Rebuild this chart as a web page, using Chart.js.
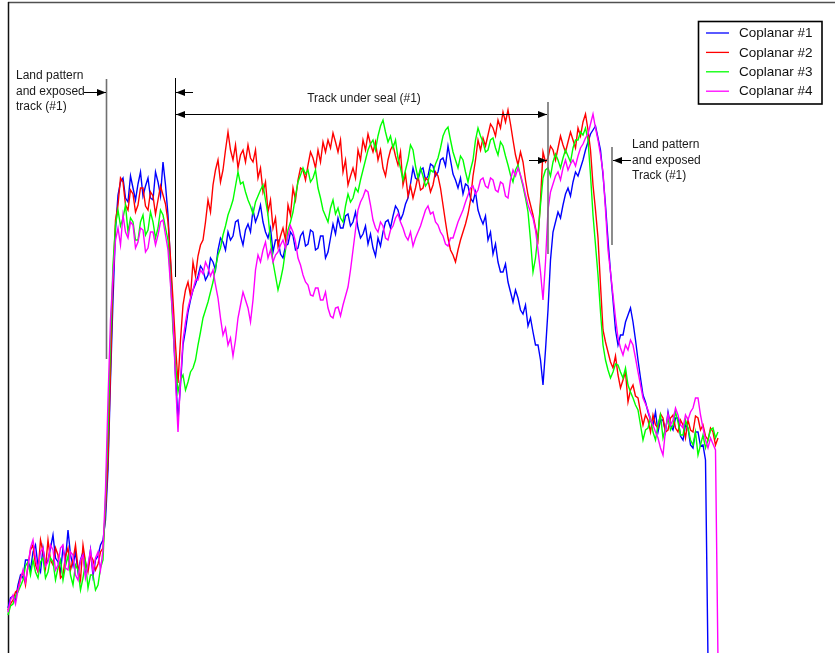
<!DOCTYPE html>
<html>
<head>
<meta charset="utf-8">
<title>Coplanar track profiles</title>
<script src="https://cdn.jsdelivr.net/npm/chart.js@4.4.1/dist/chart.umd.min.js"></script>
<style>
  html, body { margin: 0; padding: 0; background: #ffffff; }
  #wrap { width: 835px; height: 653px; position: relative; }
</style>
</head>
<body>
<div id="wrap"><canvas id="c" width="835" height="653"></canvas></div>
<script>
// Scan samples: position along the track (start + step * index); values are depth below the top edge.
const sampleStart = 8;
const sampleStep = 2.5;

const seriesLabels = ['Coplanar #1', 'Coplanar #2', 'Coplanar #3', 'Coplanar #4'];
const seriesColors = ['#0000ff', '#ff0000', '#00ff00', '#ff00ff'];

const coplanar1 = [
  608, 598, 596, 600, 585, 575, 578, 560, 560, 570, 552, 545, 566, 572, 548, 565, 560, 548, 535, 558,
  562, 572, 548, 560, 530, 555, 566, 552, 572, 560, 552, 575, 568, 550, 576, 560, 556, 545, 540, 520,
  470, 380, 300, 230, 195, 182, 178, 198, 202, 176, 188, 200, 184, 172, 196, 186, 178, 198, 200, 172,
  182, 196, 162, 185, 215, 262, 320, 375, 420, 385, 345, 330, 312, 300, 290, 284, 276, 266, 270, 280,
  275, 258, 262, 270, 250, 238, 242, 250, 232, 240, 236, 222, 220, 236, 245, 230, 224, 232, 210, 222,
  215, 205, 222, 232, 238, 228, 252, 240, 240, 254, 258, 246, 244, 232, 236, 250, 248, 236, 232, 246,
  244, 230, 232, 250, 248, 236, 236, 258, 252, 238, 224, 234, 218, 228, 228, 216, 214, 226, 222, 212,
  228, 238, 234, 226, 244, 234, 248, 256, 238, 246, 232, 222, 220, 228, 216, 206, 210, 220, 214, 204,
  198, 184, 168, 178, 180, 170, 168, 180, 176, 164, 166, 176, 172, 160, 158, 166, 146, 160, 174, 180,
  188, 178, 194, 184, 186, 198, 202, 192, 210, 218, 224, 216, 240, 232, 254, 244, 262, 272, 272, 264,
  282, 292, 302, 290, 298, 310, 314, 305, 326, 318, 332, 345, 345, 360, 385, 350, 310, 260, 232, 222,
  212, 218, 205, 194, 188, 196, 182, 172, 176, 168, 160, 150, 142, 134, 130, 126, 138, 150, 175, 205,
  240, 272, 300, 330, 345, 335, 335, 322, 315, 308, 322, 340, 360, 378, 395, 402, 412, 420, 425, 412,
  432, 420, 420, 432, 412, 425, 430, 418, 418, 436, 440, 425, 428, 445, 448, 432, 432, 446, 445, 460,
  660
];

const coplanar2 = [
  610, 604, 600, 592, 590, 578, 572, 585, 565, 550, 545, 565, 572, 540, 552, 568, 540, 560, 565, 548,
  555, 578, 575, 556, 548, 570, 560, 545, 568, 580, 545, 562, 572, 555, 560, 570, 564, 552, 548, 510,
  460, 370, 280, 220, 205, 178, 182, 205, 210, 190, 194, 212, 205, 188, 188, 206, 210, 192, 196, 214,
  200, 186, 195, 204, 222, 258, 300, 345, 383, 340, 305, 290, 282, 296, 262, 276, 256, 245, 240, 222,
  200, 212, 185, 170, 160, 182, 170, 150, 132, 150, 160, 145, 168, 155, 150, 162, 145, 158, 162, 150,
  178, 168, 192, 182, 212, 200, 228, 218, 246, 236, 228, 240, 205, 215, 188, 200, 180, 168, 170, 180,
  165, 152, 158, 168, 150, 162, 142, 152, 140, 148, 133, 142, 152, 140, 172, 160, 185, 176, 168, 178,
  150, 160, 140, 150, 134, 144, 152, 142, 160, 150, 168, 176, 160, 150, 145, 156, 165, 152, 185, 174,
  196, 186, 198, 188, 176, 190, 188, 178, 180, 192, 185, 172, 176, 188, 205, 222, 238, 250, 255, 262,
  250, 240, 232, 224, 214, 200, 176, 160, 140, 150, 138, 146, 135, 124, 128, 136, 120, 128, 112, 122,
  110, 124, 140, 155, 165, 152, 162, 180, 195, 205, 215, 228, 240, 200, 152, 162, 158, 146, 150, 160,
  148, 136, 145, 152, 142, 132, 140, 148, 128, 136, 122, 114, 130, 150, 185, 210, 238, 285, 330, 342,
  352, 362, 368, 356, 375, 388, 380, 372, 402, 390, 385, 396, 398, 412, 425, 415, 420, 432, 415, 425,
  428, 414, 418, 432, 430, 418, 415, 428, 432, 420, 425, 438, 420, 430, 432, 416, 418, 430, 425, 436,
  440, 428, 432, 445, 438
];

const coplanar3 = [
  615, 606, 604, 596, 592, 586, 580, 566, 562, 575, 560, 572, 578, 562, 558, 578, 572, 558, 562, 580,
  568, 560, 580, 566, 556, 575, 585, 565, 570, 590, 578, 562, 588, 575, 575, 590, 585, 568, 560, 500,
  430, 340, 265, 225, 210, 226, 218, 205, 232, 218, 222, 240, 240, 222, 215, 235, 230, 212, 222, 238,
  228, 210, 215, 228, 240, 280, 330, 365, 392, 380, 375, 390, 382, 372, 368, 360, 345, 332, 318, 310,
  302, 292, 282, 268, 255, 248, 235, 226, 215, 208, 200, 186, 172, 184, 182, 192, 200, 206, 214, 202,
  196, 190, 185, 200, 215, 240, 262, 276, 290, 280, 268, 250, 230, 222, 212, 196, 182, 175, 168, 174,
  170, 182, 178, 170, 188, 198, 210, 216, 222, 208, 200, 214, 208, 218, 222, 206, 194, 202, 198, 188,
  192, 180, 170, 160, 150, 144, 140, 150, 136, 126, 120, 132, 142, 136, 148, 140, 158, 168, 180, 170,
  160, 145, 150, 166, 178, 168, 176, 186, 182, 170, 172, 164, 158, 148, 136, 130, 127, 140, 152, 160,
  168, 156, 160, 172, 182, 170, 160, 140, 128, 136, 142, 152, 150, 140, 138, 148, 155, 142, 146, 156,
  165, 175, 182, 170, 165, 176, 186, 198, 212, 240, 272, 258, 235, 205, 178, 170, 168, 176, 162, 154,
  160, 168, 158, 150, 156, 162, 148, 140, 140, 132, 135, 128, 140, 175, 215, 245, 275, 312, 345, 360,
  370, 378, 372, 364, 365, 372, 378, 368, 385, 392, 398, 405, 410, 425, 440, 430, 428, 418, 432, 440,
  425, 415, 438, 428, 418, 430, 425, 412, 422, 435, 435, 420, 428, 440, 445, 432, 455, 445, 435, 448,
  440, 430, 428, 438, 432
];

const coplanar4 = [
  612, 600, 595, 604, 590, 580, 570, 582, 566, 548, 540, 558, 570, 552, 548, 566, 562, 545, 550, 570,
  565, 548, 545, 568, 570, 552, 555, 575, 580, 560, 555, 578, 565, 550, 572, 558, 552, 570, 550, 490,
  400, 320, 275, 240, 228, 245, 215, 232, 238, 222, 225, 248, 242, 228, 230, 252, 248, 232, 232, 245,
  235, 222, 220, 235, 250, 285, 320, 380, 432, 380, 340, 322, 308, 298, 290, 280, 280, 270, 274, 262,
  268, 276, 270, 285, 298, 318, 335, 328, 345, 338, 356, 340, 318, 305, 292, 300, 308, 322, 300, 270,
  255, 262, 250, 242, 258, 250, 262, 255, 252, 245, 240, 248, 236, 226, 232, 242, 258, 265, 275, 282,
  285, 295, 296, 288, 288, 300, 300, 292, 308, 316, 318, 308, 307, 316, 305, 296, 287, 270, 250, 230,
  210, 202, 197, 190, 192, 205, 220, 228, 232, 222, 226, 238, 240, 230, 226, 218, 214, 222, 228, 236,
  240, 232, 246, 238, 232, 226, 218, 210, 206, 214, 212, 222, 225, 232, 236, 244, 246, 238, 238, 230,
  222, 216, 210, 202, 195, 188, 186, 194, 190, 180, 178, 186, 188, 178, 180, 190, 192, 182, 184, 196,
  198, 180, 170, 176, 168, 175, 184, 195, 205, 212, 218, 230, 250, 272, 300, 262, 210, 192, 184, 176,
  172, 180, 168, 160, 170, 164, 160, 166, 156, 148, 144, 138, 134, 124, 114, 128, 140, 155, 172, 210,
  250, 272, 295, 318, 338, 348, 355, 345, 350, 340, 345, 358, 372, 385, 398, 404, 410, 420, 425, 432,
  438, 448, 455, 430, 414, 425, 420, 408, 415, 425, 428, 415, 420, 412, 408, 398, 398, 415, 428, 440,
  448, 438, 444, 450, 660
];

const seriesValues = [coplanar1, coplanar2, coplanar3, coplanar4];

function toPoints(values) {
  return values.map((v, i) => ({ x: sampleStart + i * sampleStep, y: v }));
}

// Region markers: vertical bars, arrows and captions, in track/depth units.
const markerBars = [
  { x: 106.5, from: 79, to: 359, color: '#707070', width: 1.6 },
  { x: 175.5, from: 78, to: 277, color: '#000000', width: 1 },
  { x: 548, from: 102, to: 254, color: '#707070', width: 1.6 },
  { x: 612, from: 147, to: 245, color: '#707070', width: 1.6 }
];
const markerArrows = [
  { y: 92, from: 84, to: 106, heads: ['end'] },
  { y: 92, from: 193, to: 176, heads: ['end'] },
  { y: 114.5, from: 176, to: 547, heads: ['start', 'end'] },
  { y: 160, from: 529, to: 547, heads: ['end'] },
  { y: 160, from: 631, to: 613, heads: ['end'] }
];
const markerTexts = [
  { x: 16, y: 76, lines: ['Land pattern', 'and exposed', 'track (#1)'], align: 'left' },
  { x: 364, y: 99, lines: ['Track under seal (#1)'], align: 'center' },
  { x: 632, y: 145, lines: ['Land pattern', 'and exposed', 'Track (#1)'], align: 'left' }
];

const framePlugin = {
  id: 'frame',
  beforeDatasetsDraw(chart) {
    const ctx = chart.ctx;
    ctx.save();
    ctx.strokeStyle = '#505050';
    ctx.lineWidth = 1.5;
    ctx.beginPath();
    ctx.moveTo(8, 2.5);
    ctx.lineTo(835, 2.5);
    ctx.stroke();
    ctx.strokeStyle = '#111111';
    ctx.beginPath();
    ctx.moveTo(8.5, 2);
    ctx.lineTo(8.5, 653);
    ctx.stroke();
    ctx.restore();
  }
};

function arrowHead(ctx, x, y, dir) {
  const len = 9, half = 3.5;
  ctx.beginPath();
  ctx.moveTo(x, y);
  ctx.lineTo(x - dir * len, y - half);
  ctx.lineTo(x - dir * len, y + half);
  ctx.closePath();
  ctx.fill();
}

const markerPlugin = {
  id: 'markers',
  afterDatasetsDraw(chart) {
    const ctx = chart.ctx;
    const xs = chart.scales.x, ys = chart.scales.y;
    ctx.save();
    markerBars.forEach(b => {
      const px = xs.getPixelForValue(b.x);
      ctx.strokeStyle = b.color;
      ctx.lineWidth = b.width;
      ctx.beginPath();
      ctx.moveTo(px, ys.getPixelForValue(b.from));
      ctx.lineTo(px, ys.getPixelForValue(b.to));
      ctx.stroke();
    });
    ctx.strokeStyle = '#000000';
    ctx.fillStyle = '#000000';
    ctx.lineWidth = 1;
    markerArrows.forEach(a => {
      const py = Math.round(ys.getPixelForValue(a.y)) + 0.5;
      const x1 = xs.getPixelForValue(a.from), x2 = xs.getPixelForValue(a.to);
      const dir = Math.sign(x2 - x1);
      ctx.beginPath();
      ctx.moveTo(x1, py);
      ctx.lineTo(x2, py);
      ctx.stroke();
      if (a.heads.includes('end')) arrowHead(ctx, x2, py, dir);
      if (a.heads.includes('start')) arrowHead(ctx, x1, py, -dir);
    });
    ctx.fillStyle = '#1a1a1a';
    ctx.font = '12px "Liberation Sans", Arial, sans-serif';
    ctx.textBaseline = 'middle';
    markerTexts.forEach(t => {
      ctx.textAlign = t.align;
      t.lines.forEach((line, k) => {
        ctx.fillText(line, xs.getPixelForValue(t.x), ys.getPixelForValue(t.y + k * 15.5));
      });
    });
    ctx.restore();
  }
};

const legendBoxPlugin = {
  id: 'legendBox',
  afterDraw(chart) {
    const ctx = chart.ctx;
    const left = 698.5, top = 21.5, width = 123.5, height = 82.5;
    ctx.save();
    ctx.fillStyle = '#ffffff';
    ctx.fillRect(left, top, width, height);
    ctx.strokeStyle = '#000000';
    ctx.lineWidth = 1.6;
    ctx.strokeRect(left, top, width, height);
    ctx.font = '13.5px "Liberation Sans", Arial, sans-serif';
    ctx.textAlign = 'left';
    ctx.textBaseline = 'middle';
    chart.data.datasets.forEach((ds, i) => {
      const y = 33 + i * 19.4;
      ctx.strokeStyle = ds.borderColor;
      ctx.lineWidth = 1.3;
      ctx.beginPath();
      ctx.moveTo(706, y);
      ctx.lineTo(729, y);
      ctx.stroke();
      ctx.fillStyle = '#111111';
      ctx.fillText(ds.label, 739, y + 0.5);
    });
    ctx.restore();
  }
};

new Chart(document.getElementById('c'), {
  type: 'line',
  data: {
    datasets: seriesValues.map((vals, i) => ({
      label: seriesLabels[i],
      data: toPoints(vals),
      borderColor: seriesColors[i],
      backgroundColor: seriesColors[i],
      borderWidth: 1.4,
      pointRadius: 0,
      tension: 0,
      fill: false,
      order: seriesValues.length - 1 - i
    }))
  },
  options: {
    responsive: false,
    animation: false,
    devicePixelRatio: 1,
    layout: { padding: 0 },
    plugins: {
      legend: { display: false },
      tooltip: { enabled: false }
    },
    scales: {
      x: { type: 'linear', min: 0, max: 835, display: false },
      y: { type: 'linear', min: 0, max: 653, reverse: true, display: false }
    }
  },
  plugins: [framePlugin, markerPlugin, legendBoxPlugin]
});
</script>
</body>
</html>
